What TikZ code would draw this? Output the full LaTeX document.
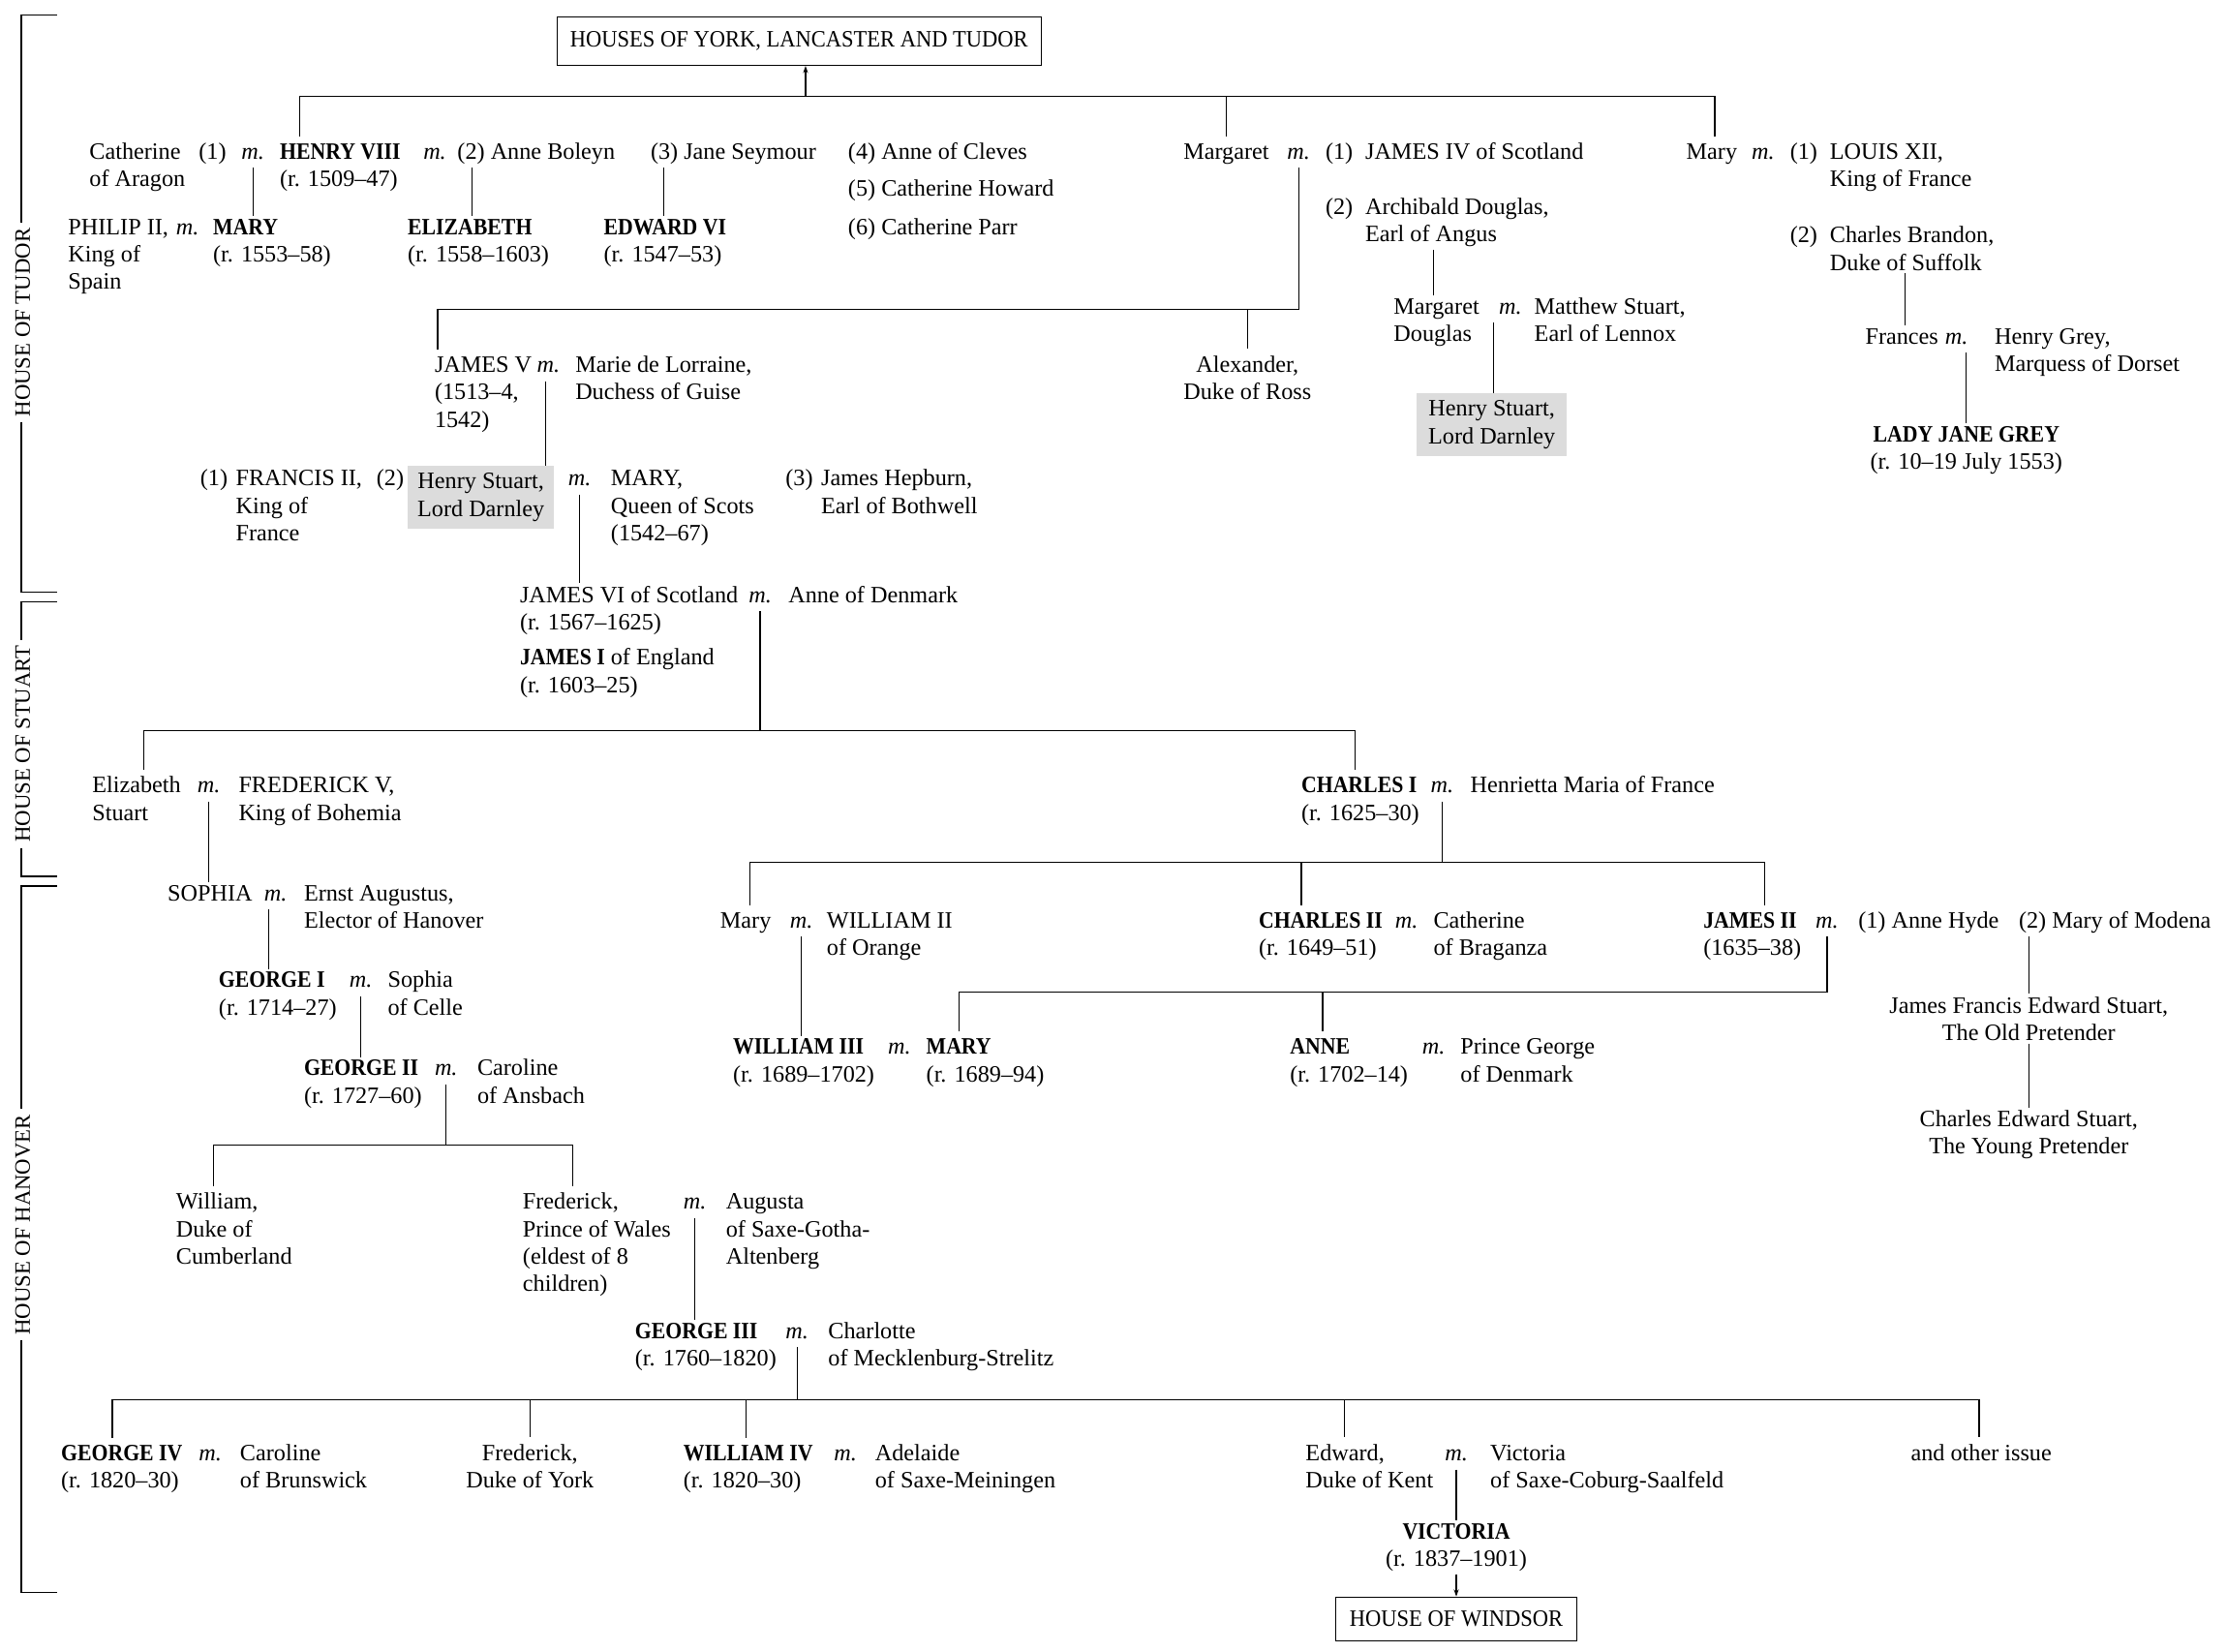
\documentclass[tikz,border=0pt]{standalone}
\usepackage{fontspec}
\setmainfont{Liberation Serif}[BoldFeatures={FakeStretch=0.9}]
\usetikzlibrary{arrows.meta}
\definecolor{hlgrey}{HTML}{DCDCDC}
\newcommand\fs{\fontsize{16.5}{19.3}\selectfont}
\newcommand\labfs{\fontsize{15.5}{18}\selectfont}
\begin{document}
\begin{tikzpicture}[x=1pt,y=-1pt,
  t/.style={inner sep=0pt,outer sep=0pt,align=left,font=\fs,anchor=base west},
  tc/.style={inner sep=0pt,outer sep=0pt,align=center,font=\fs,anchor=base},
  l2/.style={yshift=-19.3pt},
  l3/.style={yshift=-38.6pt},
  l4/.style={yshift=-57.9pt},
  mm/.style={inner sep=0pt,outer sep=0pt,font={\fs\itshape},anchor=base west},
  ln/.style={line width=0.8pt},
  ml/.style={ln,shorten <=6pt,shorten >=2pt},
  bl/.style={ln,shorten >=5pt},
  hl/.style={fill=hlgrey,inner sep=0pt,outer sep=0pt,align=center,font=\fs},
  hbox/.style={draw,line width=0.8pt,inner sep=0pt,font={\fs\addfontfeature{FakeStretch=0.93}}},
  lab/.style={inner sep=0pt,outer sep=0pt,font=\labfs,rotate=90},
  arr/.style={ln,-{Stealth[length=5pt,width=3.5pt]}}
]
\useasboundingbox (0,0) rectangle (1567.5,1162);

% ---------- boxes ----------
\node[hbox,minimum width=341pt,minimum height=34pt] (york) at (562.5,29) {HOUSES OF YORK, LANCASTER AND TUDOR};
\node[hbox,minimum width=170pt,minimum height=31pt] (windsor) at (1025,1139.5) {HOUSE OF WINDSOR};

% ---------- house labels ----------
\node[lab] (tudorL) at (16,227) {HOUSE OF TUDOR};
\node[lab] (stuartL) at (16,523.5) {HOUSE OF STUART};
\node[lab] (hanL) at (16,862) {HOUSE OF HANOVER};
\draw[ln,shorten >=4pt] (40,10.4) -- (15,10.4) -- (15,0 |- tudorL.east);
\draw[ln,shorten <=4pt] (15,0 |- tudorL.west) -- (15,417) -- (40,417);
\draw[ln,shorten >=4pt] (40,423.7) -- (15,423.7) -- (15,0 |- stuartL.east);
\draw[ln,shorten <=4pt] (15,0 |- stuartL.west) -- (15,616.8) -- (40,616.8);
\draw[ln,shorten >=4pt] (40,623.6) -- (15,623.6) -- (15,0 |- hanL.east);
\draw[ln,shorten <=4pt] (15,0 |- hanL.west) -- (15,1121) -- (40,1121);

% ---------- Tudor ----------
\node[t,l2] (catA) at (63,112) {Catherine\\of Aragon};
\node[t] (n1a) at (140,112) {(1)};
\node[mm] (mH1) at (170,112) {m.};
\node[t,l2] (henry) at (197,112) {\textbf{HENRY VIII}\\(r. 1509–47)};
\node[mm] (mH2) at (298,112) {m.};
\node[t] (anneB) at (322,112) {(2) Anne Boleyn};
\node[t] (jane) at (458,112) {(3) Jane Seymour};
\node[t] (anneC) at (597,112) {(4) Anne of Cleves};
\node[t] (catH) at (597,138) {(5) Catherine Howard};
\node[t] (catP) at (597,165) {(6) Catherine Parr};
\node[t] (marg) at (833,112) {Margaret};
\node[mm] (mMg) at (906,112) {m.};
\node[t] (n1b) at (933,112) {(1)};
\node[t] (james4) at (961,112) {JAMES IV of Scotland};
\node[t] (n2b) at (933,151) {(2)};
\node[t,l2] (archie) at (961,151) {Archibald Douglas,\\Earl of Angus};
\node[t] (maryT) at (1187,112) {Mary};
\node[mm] (mMy) at (1233,112) {m.};
\node[t] (n1c) at (1260,112) {(1)};
\node[t,l2] (louis) at (1288,112) {LOUIS XII,\\King of France};
\node[t] (n2c) at (1260,171) {(2)};
\node[t,l2] (brandon) at (1288,171) {Charles Brandon,\\Duke of Suffolk};

\node[t,l3] (philip) at (48,165) {PHILIP II,\\King of\\Spain};
\node[mm] (mPh) at (124,165) {m.};
\node[t,l2] (maryI) at (150,165) {\textbf{MARY}\\(r. 1553–58)};
\node[t,l2] (eliz) at (287,165) {\textbf{ELIZABETH}\\(r. 1558–1603)};
\node[t,l2] (edw) at (425,165) {\textbf{EDWARD VI}\\(r. 1547–53)};
\node[t,l2] (margD) at (981,221) {Margaret\\Douglas};
\node[mm] (mMD) at (1055,221) {m.};
\node[t,l2] (matt) at (1080,221) {Matthew Stuart,\\Earl of Lennox};
\node[t] (frances) at (1313,242) {Frances};
\node[mm] (mFr) at (1369,242) {m.};
\node[t,l2] (hgrey) at (1404,242) {Henry Grey,\\Marquess of Dorset};

\node[t,l3] (james5) at (306,262) {JAMES V\\(1513–4,\\1542)};
\node[mm] (mJ5) at (378,262) {m.};
\node[t,l2] (marie) at (405,262) {Marie de Lorraine,\\Duchess of Guise};
\node[tc,l2] (alex) at (878,262) {Alexander,\\Duke of Ross};
\node[hl,minimum width=106pt,minimum height=44pt] (hsA) at (1050,299) {Henry Stuart,\\Lord Darnley};
\node[tc,l2] (ljg) at (1384,311) {\textbf{LADY JANE GREY}\\(r. 10–19 July 1553)};

\node[t] (n1d) at (141,342) {(1)};
\node[t,l3] (francis) at (166,342) {FRANCIS II,\\King of\\France};
\node[t] (n2d) at (265,342) {(2)};
\node[hl,minimum width=103pt,minimum height=44pt] (hsB) at (338.5,350) {Henry Stuart,\\Lord Darnley};
\node[mm] (mMQ) at (400,342) {m.};
\node[t,l3] (maryQ) at (430,342) {MARY,\\Queen of Scots\\(1542–67)};
\node[t] (n3d) at (553,342) {(3)};
\node[t,l2] (hepburn) at (578,342) {James Hepburn,\\Earl of Bothwell};

% ---------- Stuart ----------
\node[t,l2] (james6) at (366,424) {JAMES VI of Scotland\\(r. 1567–1625)};
\node[mm] (mJ6) at (527,424) {m.};
\node[t] (anneD) at (555,424) {Anne of Denmark};
\node[t,l2] (james1) at (366,468) {\textbf{JAMES I} of England\\(r. 1603–25)};
\node[t,l2] (elizS) at (65,558) {Elizabeth\\Stuart};
\node[mm] (mES) at (139,558) {m.};
\node[t,l2] (fred5) at (168,558) {FREDERICK V,\\King of Bohemia};
\node[t,l2] (charles1) at (916,558) {\textbf{CHARLES I}\\(r. 1625–30)};
\node[mm] (mC1) at (1007,558) {m.};
\node[t] (henrietta) at (1035,558) {Henrietta Maria of France};

% ---------- Hanover ----------
\node[t] (sophia) at (118,634) {SOPHIA};
\node[mm] (mSo) at (186,634) {m.};
\node[t,l2] (ernst) at (214,634) {Ernst Augustus,\\Elector of Hanover};
\node[t] (maryO) at (507,653) {Mary};
\node[mm] (mMO) at (556,653) {m.};
\node[t,l2] (will2) at (582,653) {WILLIAM II\\of Orange};
\node[t,l2] (charles2) at (886,653) {\textbf{CHARLES II}\\(r. 1649–51)};
\node[mm] (mC2) at (982,653) {m.};
\node[t,l2] (catB) at (1009,653) {Catherine\\of Braganza};
\node[t,l2] (james2) at (1199,653) {\textbf{JAMES II}\\(1635–38)};
\node[mm] (mJ2) at (1278,653) {m.};
\node[t] (hyde) at (1308,653) {(1) Anne Hyde};
\node[t] (modena) at (1421,653) {(2) Mary of Modena};
\node[t,l2] (george1) at (154,695) {\textbf{GEORGE I}\\(r. 1714–27)};
\node[mm] (mG1) at (246,695) {m.};
\node[t,l2] (sophC) at (273,695) {Sophia\\of Celle};
\node[tc,l2] (oldP) at (1428,713) {James Francis Edward Stuart,\\The Old Pretender};
\node[tc,l2] (youngP) at (1428,793) {Charles Edward Stuart,\\The Young Pretender};
\node[t,l2] (will3) at (516,742) {\textbf{WILLIAM III}\\(r. 1689–1702)};
\node[mm] (mW3) at (625,742) {m.};
\node[t,l2] (mary2) at (652,742) {\textbf{MARY}\\(r. 1689–94)};
\node[t,l2] (anne) at (908,742) {\textbf{ANNE}\\(r. 1702–14)};
\node[mm] (mAn) at (1001,742) {m.};
\node[t,l2] (pgeorge) at (1028,742) {Prince George\\of Denmark};
\node[t,l2] (george2) at (214,757) {\textbf{GEORGE II}\\(r. 1727–60)};
\node[mm] (mG2) at (306,757) {m.};
\node[t,l2] (carA) at (336,757) {Caroline\\of Ansbach};
\node[t,l3] (william) at (124,851) {William,\\Duke of\\Cumberland};
\node[t,l4] (fredW) at (368,851) {Frederick,\\Prince of Wales\\(eldest of 8\\children)};
\node[mm] (mFW) at (481,851) {m.};
\node[t,l3] (augusta) at (511,851) {Augusta\\of Saxe-Gotha-\\Altenberg};
\node[t,l2] (george3) at (447,942) {\textbf{GEORGE III}\\(r. 1760–1820)};
\node[mm] (mG3) at (553,942) {m.};
\node[t,l2] (charlotte) at (583,942) {Charlotte\\of Mecklenburg-Strelitz};
\node[t,l2] (george4) at (43,1028) {\textbf{GEORGE IV}\\(r. 1820–30)};
\node[mm] (mG4) at (140,1028) {m.};
\node[t,l2] (carB) at (169,1028) {Caroline\\of Brunswick};
\node[tc,l2] (fredY) at (373,1028) {Frederick,\\Duke of York};
\node[t,l2] (will4) at (481,1028) {\textbf{WILLIAM IV}\\(r. 1820–30)};
\node[mm] (mW4) at (587,1028) {m.};
\node[t,l2] (adelaide) at (616,1028) {Adelaide\\of Saxe-Meiningen};
\node[t,l2] (edward) at (919,1028) {Edward,\\Duke of Kent};
\node[mm] (mEd) at (1017,1028) {m.};
\node[t,l2] (victM) at (1049,1028) {Victoria\\of Saxe-Coburg-Saalfeld};
\node[t] (other) at (1345,1028) {and other issue};
\node[tc,l2] (victoria) at (1025,1083) {\textbf{VICTORIA}\\(r. 1837–1901)};

% ---------- connectors ----------
\draw[arr] (567,68) -- (567,0 |- york.south);
\draw[ln,shorten <=5pt,shorten >=5pt] (211,0 |- henry.north) -- (211,68) -- (1207,68) -- (1207,0 |- maryT.north);
\draw[bl] (863,68) -- (863,0 |- marg.north);

\draw[ml] (mH1.south) -- (mH1.south |- maryI.north);
\draw[ml] (332,0 |- anneB.base) -- (332,0 |- eliz.north);
\draw[ml] (467,0 |- jane.base) -- (467,0 |- edw.north);
\draw[ln,shorten <=6pt,shorten >=5pt] (mMg.south) |- (308,218) -- (308,0 |- james5.north);
\draw[bl] (878,218) -- (878,0 |- alex.north);
\draw[ml,shorten <=2pt] (1009,0 |- archie.south) -- (1009,0 |- margD.north);
\draw[ml,shorten >=0pt] (1051,0 |- mMD.south) -- (1051,0 |- hsA.north);
\draw[ml,shorten <=2pt] (1341,0 |- brandon.south) -- (1341,0 |- frances.north);
\draw[ml] (1384,0 |- mFr.south) -- (1384,0 |- ljg.north);
\draw[ml,shorten >=0pt] (384,0 |- mJ5.south) -- (384,0 |- hsB.north);
\draw[ml] (mMQ.south) -- (mMQ.south |- james6.north);

\draw[ln,shorten <=6pt] (mJ6.south) -- (mJ6.south |- 0,514);
\draw[ln,shorten <=5pt,shorten >=5pt] (101,0 |- elizS.north) -- (101,514) -- (954,514) -- (954,0 |- charles1.north);
\draw[ml] (mES.south) -- (mES.south |- sophia.north);
\draw[ln,shorten <=6pt] (mC1.south) -- (mC1.south |- 0,607);
\draw[ln,shorten <=5pt,shorten >=5pt] (528,0 |- maryO.north) -- (528,607) -- (1242,607) -- (1242,0 |- james2.north);
\draw[bl] (916,607) -- (916,0 |- charles2.north);

\draw[ml] (189,0 |- mSo.south) -- (189,0 |- george1.north);
\draw[ml] (mMO.south) -- (mMO.south |- will3.north);
\draw[ln,shorten <=6pt,shorten >=5pt] (mJ2.south) |- (675,698) -- (675,0 |- mary2.north);
\draw[bl] (931,698) -- (931,0 |- anne.north);
\draw[ml] (1428,0 |- modena.base) -- (1428,0 |- oldP.north);
\draw[ml,shorten <=2pt] (oldP.south) -- (youngP.north);
\draw[ml] (mG1.south) -- (mG1.south |- george2.north);
\draw[ln,shorten <=6pt] (mG2.south) -- (mG2.south |- 0,806);
\draw[ln,shorten <=5pt,shorten >=5pt] (150,0 |- william.north) -- (150,806) -- (403,806) -- (403,0 |- fredW.north);
\draw[ml] (mFW.south) -- (mFW.south |- george3.north);
\draw[ln,shorten <=6pt] (mG3.south) -- (mG3.south |- 0,985);
\draw[ln,shorten <=5pt,shorten >=5pt] (79,0 |- george4.north) -- (79,985) -- (1393,985) -- (1393,0 |- other.north);
\draw[bl] (373,985) -- (373,0 |- fredY.north);
\draw[bl] (525,985) -- (525,0 |- will4.north);
\draw[bl] (946,985) -- (946,0 |- edward.north);
\draw[ml] (mEd.south) -- (mEd.south |- victoria.north);
\draw[arr,shorten <=2pt] (victoria.south) -- (victoria.south |- windsor.north);
\end{tikzpicture}
\end{document}
